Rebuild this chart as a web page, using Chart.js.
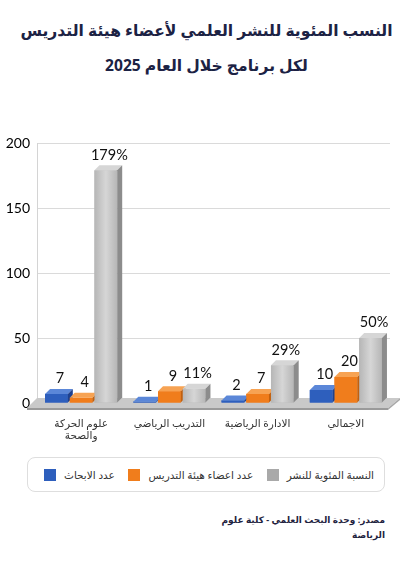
<!DOCTYPE html>
<html lang="ar">
<head>
<meta charset="utf-8">
<title>النسب المئوية للنشر العلمي</title>
<script src="https://cdn.jsdelivr.net/npm/chart.js@4"></script>
<style>
  body { margin: 0; width: 405px; height: 570px; background: #fff; font-family: "Noto Sans", "DejaVu Sans", sans-serif; position: relative; overflow: hidden; }
  .title { position: absolute; top: 13px; left: 4px; width: 405px; text-align: center; direction: rtl; color: #1c2244; font-weight: bold; font-size: 15.6px; line-height: 35px; white-space: nowrap; }
  #chartBox { position: absolute; top: 125px; left: 0; width: 405px; height: 320px; }
  .legend { position: absolute; top: 457px; left: 27px; width: 358px; height: 35px; box-sizing: border-box; border: 1px solid #dedede; border-radius: 8px; display: flex; align-items: center; justify-content: space-between; padding: 0 10px 0 16px; font-size: 10.5px; color: #333; white-space: nowrap; }
  .legend span.item { display: flex; align-items: center; }
  .legend i { display: inline-block; width: 12px; height: 12px; margin-right: 8px; }
  .source { position: absolute; top: 512px; right: 20px; direction: rtl; text-align: right; font-size: 9px; font-weight: bold; color: #1f2340; line-height: 15px; white-space: nowrap; }
</style>
</head>
<body>
  <div class="title">النسب المئوية للنشر العلمي لأعضاء هيئة التدريس<br>لكل برنامج خلال العام 2025</div>
  <div id="chartBox"><canvas id="chart" width="405" height="320"></canvas></div>
  <div class="legend" id="legend"></div>
  <div class="source">مصدر: وحدة البحث العلمي - كلية علوم<br>الرياضة</div>

<script>
  // categories and series
  const programs = [['علوم الحركة', 'والصحة'], 'التدريب الرياضي', 'الادارة الرياضية', 'الاجمالي'];
  const researchCount = [7, 1, 2, 10];
  const facultyCount = [4, 9, 7, 20];
  const publishPct = [179, 11, 29, 50];
  const seriesNames = ['عدد الابحاث', 'عدد اعضاء هيئة التدريس', 'النسبة المئوية للنشر'];
  const yTicks = [0, 50, 100, 150, 200];

  // front / top / side colours per series
  const faceColors = [
    { front: '#2e5fbd', top: '#5b87d8', side: '#1e418f' },
    { front: '#f07d1c', top: '#f7a353', side: '#c2600e' },
    { front: '#b6b6b6', top: '#d6d6d6', side: '#8c8c8c' }
  ];
  const depthX = 5, depthY = 5;

  Chart.defaults.font.family = "Lato, 'Noto Sans', 'DejaVu Sans', sans-serif";

  // 3d floor under the bars
  const floorPlugin = {
    id: 'floor',
    beforeDatasetsDraw(chart) {
      const { ctx, chartArea } = chart;
      const base = chart.scales.y.getPixelForValue(0);
      ctx.save();
      ctx.fillStyle = '#c9c9c9';
      ctx.beginPath();
      ctx.moveTo(chartArea.left, base - 5);
      ctx.lineTo(chartArea.right + 10, base - 5);
      ctx.lineTo(chartArea.right - 2, base + 5);
      ctx.lineTo(chartArea.left - 10, base + 5);
      ctx.closePath();
      ctx.fill();
      ctx.fillStyle = '#9a9a9a';
      ctx.beginPath();
      ctx.moveTo(chartArea.left - 10, base + 5);
      ctx.lineTo(chartArea.right - 2, base + 5);
      ctx.lineTo(chartArea.right - 2, base + 7);
      ctx.lineTo(chartArea.left - 10, base + 7);
      ctx.closePath();
      ctx.fill();
      ctx.fillStyle = '#a8a8a8';
      ctx.beginPath();
      ctx.moveTo(chartArea.right - 2, base + 5);
      ctx.lineTo(chartArea.right + 10, base - 5);
      ctx.lineTo(chartArea.right + 10, base - 3);
      ctx.lineTo(chartArea.right - 2, base + 7);
      ctx.closePath();
      ctx.fill();
      ctx.restore();
    }
  };

  // top and side faces + value labels
  const bars3d = {
    id: 'bars3d',
    afterDatasetsDraw(chart) {
      const ctx = chart.ctx;
      const n = chart.data.labels.length;
      ctx.save();
      for (let i = 0; i < n; i++) {
        chart.data.datasets.forEach((ds, d) => {
          const el = chart.getDatasetMeta(d).data[i];
          const { x, y, base, width } = el.getProps(['x', 'y', 'base', 'width'], true);
          const l = x - width / 2, r = x + width / 2;
          const c = faceColors[d];
          const g = ctx.createLinearGradient(l, 0, r, 0);
          g.addColorStop(0, c.front);
          g.addColorStop(0.5, c.top);
          g.addColorStop(1, c.front);
          ctx.fillStyle = d === 2 ? g : c.front;
          ctx.fillRect(l, y, width, base - y);
          ctx.fillStyle = c.top;
          ctx.beginPath();
          ctx.moveTo(l, y); ctx.lineTo(l + depthX, y - depthY);
          ctx.lineTo(r + depthX, y - depthY); ctx.lineTo(r, y);
          ctx.closePath(); ctx.fill();
          ctx.fillStyle = c.side;
          ctx.beginPath();
          ctx.moveTo(r, y); ctx.lineTo(r + depthX, y - depthY);
          ctx.lineTo(r + depthX, base - depthY); ctx.lineTo(r, base);
          ctx.closePath(); ctx.fill();
        });
      }
      ctx.fillStyle = '#111';
      ctx.font = "14.5px Lato, 'Noto Sans', sans-serif";
      ctx.textAlign = 'center';
      ctx.textBaseline = 'bottom';
      chart.data.datasets.forEach((ds, d) => {
        chart.getDatasetMeta(d).data.forEach((el, i) => {
          const v = ds.data[i];
          const txt = d === 2 ? v + '%' : String(v);
          ctx.fillText(txt, el.x + depthX * 0.7, el.y - depthY - 3);
        });
      });
      ctx.restore();
    }
  };

  const seriesData = [researchCount, facultyCount, publishPct];

  new Chart(document.getElementById('chart'), {
    type: 'bar',
    data: {
      labels: programs,
      datasets: seriesData.map((vals, d) => ({
        label: seriesNames[d],
        data: vals,
        backgroundColor: faceColors[d].front,
        categoryPercentage: 0.84,
        barPercentage: 0.92
      }))
    },
    options: {
      responsive: false,
      animation: false,
      layout: { padding: { top: 18, right: 15, bottom: 0, left: 0 } },
      plugins: { legend: { display: false }, tooltip: { enabled: false } },
      scales: {
        x: {
          grid: { display: false, drawTicks: false },
          border: { display: false },
          ticks: { color: '#333', font: { size: 10.5 }, padding: 14 },
          afterFit(scale) { scale.height = 42; }
        },
        y: {
          min: 0, max: 200,
          afterBuildTicks(scale) { scale.ticks = yTicks.map(v => ({ value: v })); },
          grid: { color: '#dadada', drawTicks: false },
          border: { display: true, color: '#d4d4d4' },
          ticks: { color: '#000', font: { size: 14 }, padding: 7 },
          afterFit(scale) { scale.width = 37; }
        }
      }
    },
    plugins: [floorPlugin, bars3d]
  });

  // legend
  const legend = document.getElementById('legend');
  seriesNames.forEach((name, d) => {
    const item = document.createElement('span');
    item.className = 'item';
    item.innerHTML = '<i style="background:' + (d === 2 ? '#a9a9a9' : faceColors[d].front) + '"></i><span>' + name + '</span>';
    legend.appendChild(item);
  });
</script>
</body>
</html>
